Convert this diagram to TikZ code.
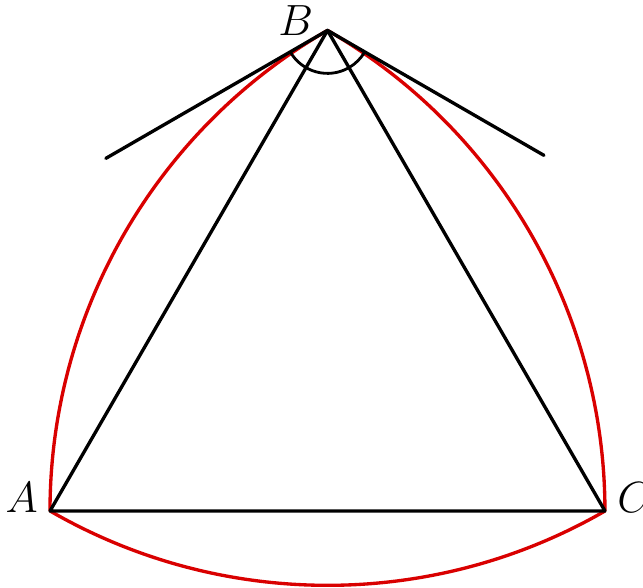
\documentclass[tikz,border=0pt]{standalone}
\usetikzlibrary{calc}
\begin{document}
\begin{tikzpicture}[x=0.02cm,y=0.02cm,
  edge/.style={black,line width=1.9pt,line cap=round,line join=round},
  reul/.style={red!85!black,line width=1.9pt},
  lab/.style={font=\fontsize{24}{28}\selectfont}]
\useasboundingbox (0,0) rectangle (643,588);
\coordinate (A) at (50,77);
\coordinate (C) at (605,77);
\coordinate (B) at (327.5,557.6);
% Reuleaux arcs
\draw[reul] (A) arc[start angle=180,end angle=120,radius=11.1cm];
\draw[reul] (B) arc[start angle=60,end angle=0,radius=11.1cm];
\draw[reul] (C) arc[start angle=-60,end angle=-120,radius=11.1cm];
% triangle
\draw[edge] (A) -- (B) -- (C) -- cycle;
% tangent lines at B
\coordinate (TL) at ($(B)+(210:5.12cm)$);
\coordinate (TR) at ($(B)+(330:5.0cm)$);
\draw[edge] (TL) -- (B) -- (TR);
% angle arc at B
\draw[black,line width=1.6pt] ($(B)+(210:0.86cm)$) arc[start angle=210,end angle=330,radius=0.86cm];
% labels
\node[lab,anchor=base east,inner sep=0pt] (LA) at ($(A)+(-12,-2)$) {$A$};
\node[lab,anchor=base west,inner sep=0pt] (LC) at ($(C)+(12,-2)$) {$C$};
\node[lab,anchor=base east,inner sep=0pt] (LB) at ($(B)+(-14,-5)$) {$B$};
\end{tikzpicture}
\end{document}
